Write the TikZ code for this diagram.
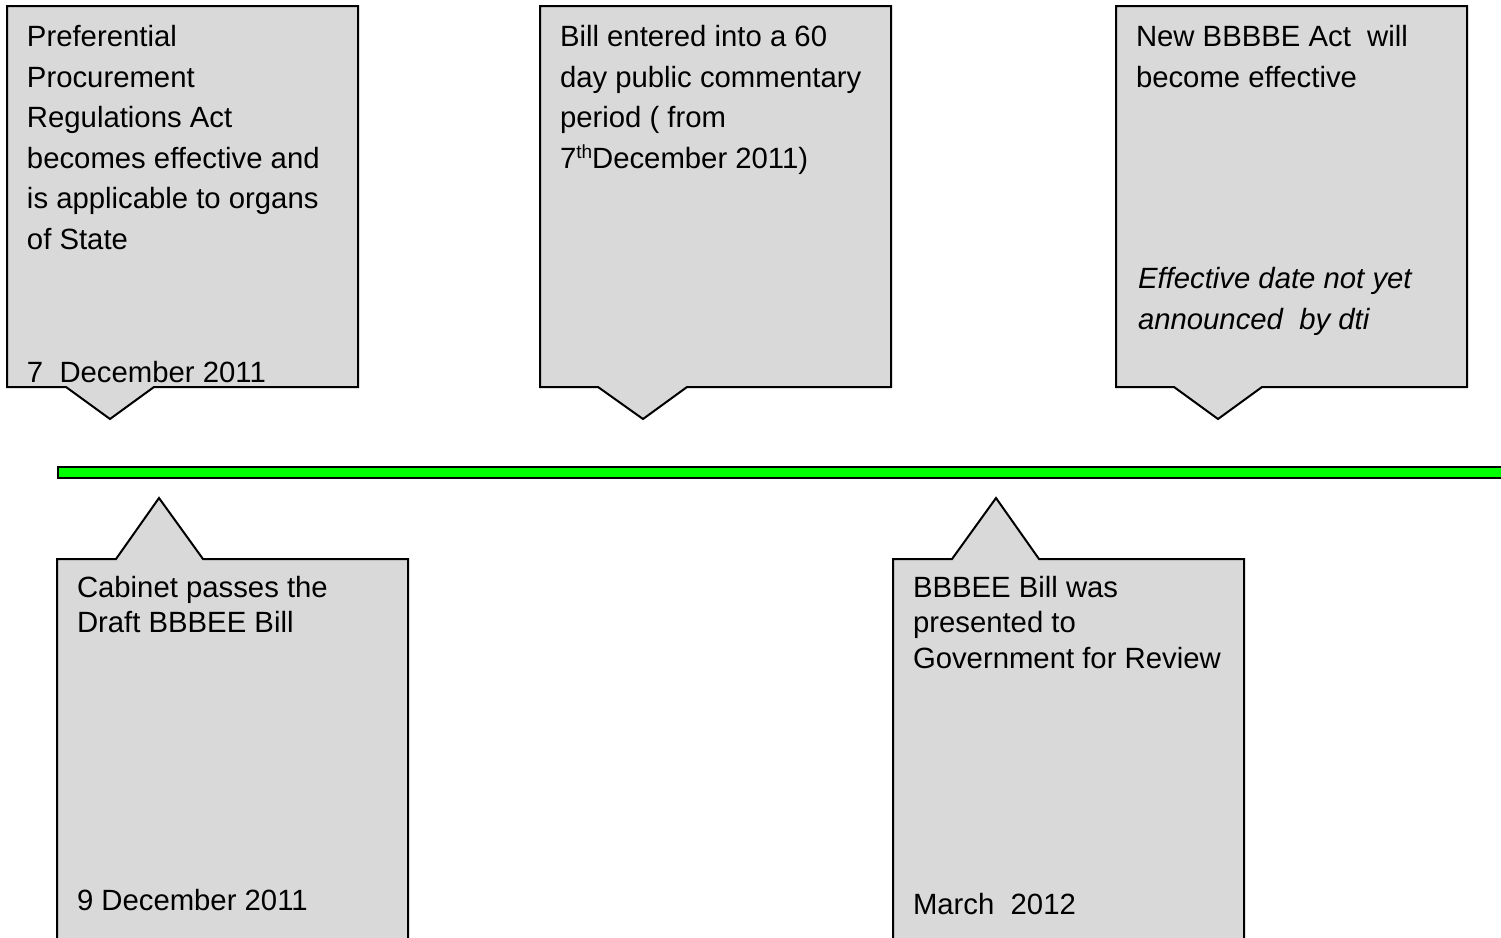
\documentclass[tikz,border=0pt]{standalone}
\usepackage{fontspec}
\setmainfont{Liberation Sans}
\definecolor{boxgray}{RGB}{217,217,217}
\definecolor{bargreen}{RGB}{0,255,0}
\begin{document}
\begin{tikzpicture}[x=1pt,y=-1pt,
  callout/.style={draw=black,fill=boxgray,line width=2pt,line join=miter},
  lbl/.style={anchor=base west,inner sep=0pt,outer sep=0pt,font=\fontsize{29.3}{35}\selectfont},
  itlbl/.style={lbl,font=\fontsize{29.3}{35}\selectfont\itshape}]
\useasboundingbox (0,0) rectangle (1501,937);
\begin{scope}
\clip (0,0) rectangle (1501,937);
% top callouts
\draw[callout] (7,6) -- (358,6) -- (358,387) -- (154,387) -- (110,419) -- (66,387) -- (7,387) -- cycle;
\draw[callout] (540,6) -- (891,6) -- (891,387) -- (687,387) -- (643,419) -- (598,387) -- (540,387) -- cycle;
\draw[callout] (1116,6) -- (1467,6) -- (1467,387) -- (1262,387) -- (1218,419) -- (1174,387) -- (1116,387) -- cycle;
% bottom callouts
\draw[callout] (57,945) -- (57,559) -- (116,559) -- (159,498) -- (203,559) -- (408,559) -- (408,945);
\draw[callout] (893,945) -- (893,559) -- (952,559) -- (996,498) -- (1039,559) -- (1244,559) -- (1244,945);
% timeline bar
\draw[draw=black,fill=bargreen,line width=2pt] (58,467) rectangle (1510,478);
\end{scope}
% box 1
\node[lbl] (a1) at (27,46.5) {Preferential};
\node[lbl] (a2) at (27,87) {Procurement};
\node[lbl] (a3) at (27,127.5) {Regulations Act};
\node[lbl] (a4) at (27,168) {becomes effective and};
\node[lbl] (a5) at (27,208.5) {is applicable to organs};
\node[lbl] (a6) at (27,249) {of State};
\node[lbl] (a7) at (27,382.5) {7\ \ December 2011};
% box 2
\node[lbl] (b1) at (560,46.5) {Bill entered into a 60};
\node[lbl] (b2) at (560,87) {day public commentary};
\node[lbl] (b3) at (560,127.5) {period ( from};
\node[lbl] (b4) at (560,168) {7\raisebox{10pt}{\fontsize{19}{19}\selectfont th}December 2011)};
% box 3
\node[lbl] (c1) at (1136,46.5) {New BBBBE Act\ \ will};
\node[lbl] (c2) at (1136,87) {become effective};
\node[itlbl] (c3) at (1138,288.5) {Effective date not yet};
\node[itlbl] (c4) at (1138,329) {announced\ \ by dti};
% box 4
\node[lbl] (d1) at (77,597.5) {Cabinet passes the};
\node[lbl] (d2) at (77,632.5) {Draft BBBEE Bill};
\node[lbl] (d3) at (77,910.5) {9 December 2011};
% box 5
\node[lbl] (e1) at (913,597.5) {BBBEE Bill was};
\node[lbl] (e2) at (913,632.5) {presented to};
\node[lbl] (e3) at (913,668.5) {Government for Review};
\node[lbl] (e4) at (913,914.5) {March\ \ 2012};
\end{tikzpicture}
\end{document}
